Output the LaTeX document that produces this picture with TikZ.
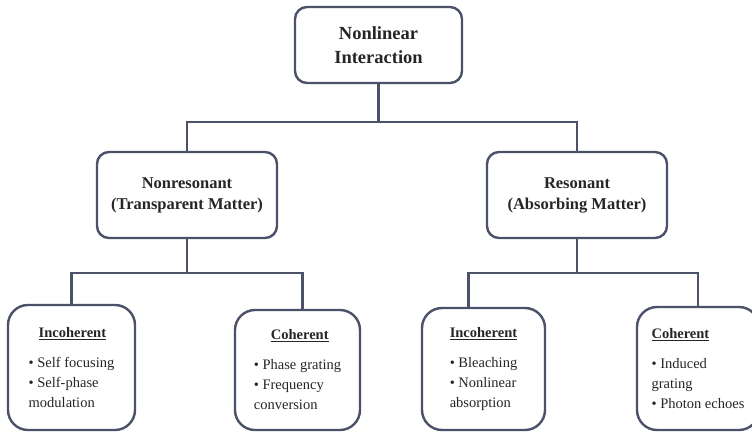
\documentclass[tikz,border=0pt]{standalone}
\usepackage{fontspec}
\setmainfont{Liberation Serif}
\definecolor{slate}{HTML}{4B5169}

\begin{document}
\begin{tikzpicture}[x=1pt,y=-1pt,
	box/.style={draw=slate,line width=2.4pt,rounded corners=12pt,fill=white,text=black!85},
	topbox/.style={box,minimum width=167pt,minimum height=76pt,align=center,font=\bfseries\fontsize{18.5}{24}\selectfont},
	midbox/.style={box,minimum width=180pt,minimum height=86pt,align=center,font=\bfseries\fontsize{16.5}{21}\selectfont},
	leafbox/.style={box,rounded corners=20pt,minimum width=125pt,minimum height=122pt,align=left,font=\fontsize{14.5}{20}\selectfont},
	link/.style={draw=slate,line width=2.4pt}]
	\useasboundingbox (0,0) rectangle (752,434);
	\clip (0,0) rectangle (752,434);

	\draw[] (378.5,45) node[topbox] (Nonlinear) {Nonlinear\\Interaction};
	\draw[] (187,195) node[midbox] (Nonres) {Nonresonant\\(Transparent Matter)};
	\draw[] (577,195) node[midbox] (Res) {Resonant\\(Absorbing Matter)};

	\draw[] (71.5,367.5) node[leafbox,minimum width=127pt,minimum height=125pt] (IncohLeft) {\hspace*{10pt}\underline{\textbf{Incoherent}}\\[10pt]\textbullet{} Self focusing\\\textbullet{} Self-phase\\modulation};
	\draw[] (297.5,370) node[leafbox,minimum height=120pt] (CohLeft) {\hspace*{17pt}\underline{\textbf{Coherent}}\\[10pt]\textbullet{} Phase grating\\\textbullet{} Frequency\\conversion};
	\draw[] (483.5,369) node[leafbox,minimum width=123pt] (IncohRight) {\underline{\textbf{Incoherent}}\\[10pt]\textbullet{} Bleaching\\\textbullet{} Nonlinear\\absorption};
	\draw[] (698,368.5) node[leafbox,minimum width=122pt,minimum height=123pt] (CohRight) {\underline{\textbf{Coherent}}\\[10pt]\textbullet{} Induced\\grating\\\textbullet{} Photon echoes};

	\coordinate (TopBus) at (378.5,122);
	\coordinate (LeftBus) at (187,273);
	\coordinate (RightBus) at (577,273);

	\draw[link] (Nonlinear.south) -- (TopBus);
	\draw[link] (Nonres.north) |- (TopBus) -| (Res.north);
	\draw[link] (Nonres.south) -- (LeftBus);
	\draw[link] (IncohLeft.north) |- (LeftBus) -| ([xshift=5pt]CohLeft.north);
	\draw[link] (Res.south) -- (RightBus);
	\draw[link] ([xshift=-15pt]IncohRight.north) |- (RightBus) -| (CohRight.north);
\end{tikzpicture}
\end{document}
